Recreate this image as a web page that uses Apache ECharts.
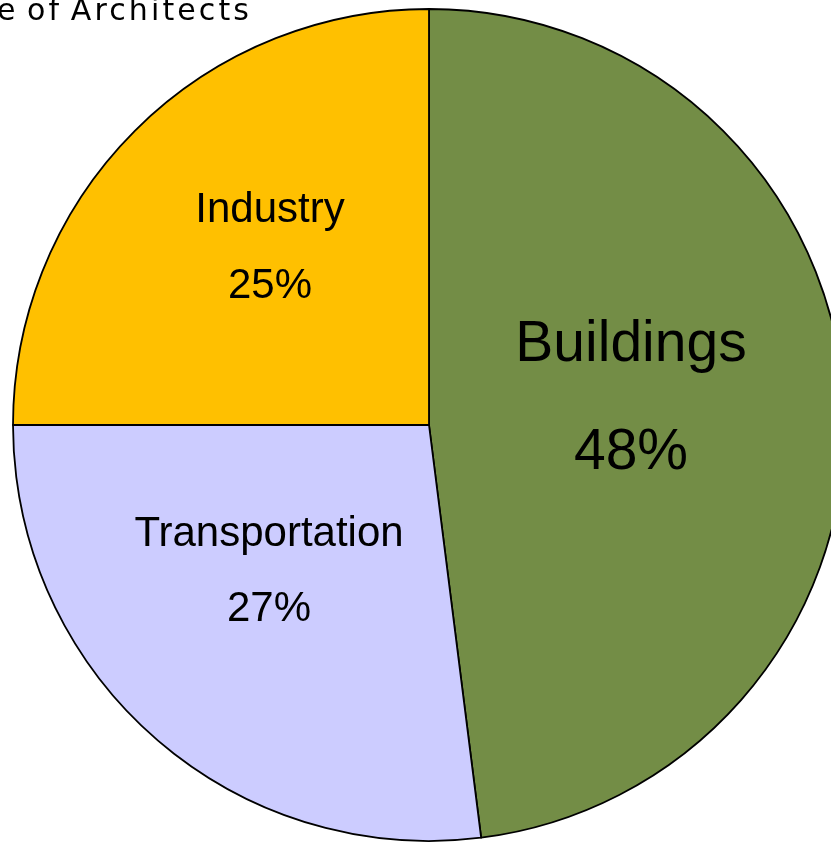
<!DOCTYPE html>
<html>
<head>
<meta charset="utf-8">
<script src="https://cdn.jsdelivr.net/npm/echarts@6/dist/echarts.min.js"></script>
<style>
  html, body { margin: 0; padding: 0; background: #fff; overflow: hidden; }
  #chart { width: 831px; height: 842px; position: relative; }
  .source {
    position: absolute; right: 579px; top: -5px;
    font-family: 'DejaVu Sans', sans-serif; font-size: 30px; line-height: 30px;
    letter-spacing: 3.1px; word-spacing: -4px; color: #000; white-space: nowrap; z-index: 2;
  }
</style>
</head>
<body>
<div id="chart"></div>
<div class="source">American Institute of Architects</div>
<script>
// energy consumption by sector
const sectors = ['Buildings', 'Transportation', 'Industry']
const shares = [48, 27, 25]

const sectorColors = { Buildings: '#738d46', Transportation: '#ccccff', Industry: '#ffc000' }
const labelFont = { Buildings: [57, 108], Transportation: [42, 75], Industry: [42, 76] }
const labelSpot = { Buildings: [631, 399], Transportation: [269, 572], Industry: [270, 248] }

const chart = echarts.init(document.getElementById('chart'))
chart.setOption({
  animation: false,
  series: [{
    type: 'pie',
    center: [429, 425],
    radius: 416,
    startAngle: 90,
    clockwise: true,
    silent: true,
    itemStyle: { borderColor: '#000', borderWidth: 1.8 },
    label: {
      position: 'inside',
      color: '#000',
      fontFamily: 'Liberation Sans, Arial, sans-serif',
      align: 'center',
      verticalAlign: 'middle',
      formatter: p => p.name + '\n' + Math.round(p.percent) + '%'
    },
    labelLine: { show: false },
    labelLayout: p => {
      const s = labelSpot[sectors[p.dataIndex]]
      return { x: s[0], y: s[1], align: 'center', verticalAlign: 'middle' }
    },
    data: sectors.map((name, i) => ({
      name, value: shares[i],
      itemStyle: { color: sectorColors[name] },
      label: { fontSize: labelFont[name][0], lineHeight: labelFont[name][1] }
    }))
  }]
})
</script>
</body>
</html>
